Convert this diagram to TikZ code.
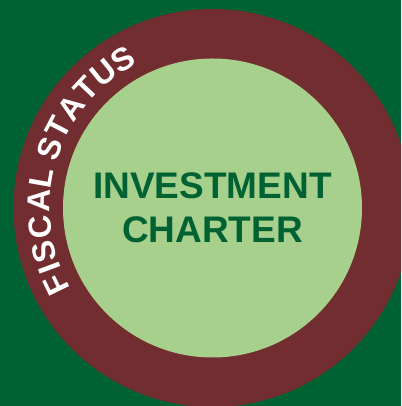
\documentclass[tikz,border=0pt]{standalone}
\usepackage{fontspec}
\setmainfont{Liberation Sans}
\usetikzlibrary{calc}
\definecolor{bggreen}{RGB}{0,98,51}
\definecolor{ringred}{RGB}{114,45,48}
\definecolor{innergreen}{RGB}{168,208,141}
\begin{document}
\begin{tikzpicture}[x=1pt,y=1pt,
  titletext/.style={font=\fontsize{37}{44}\selectfont\bfseries, text=bggreen, align=center},
  ringletter/.style={font=\fontsize{32}{32}\selectfont\bfseries, text=white, inner sep=0pt, anchor=base}]
\useasboundingbox (0,0) rectangle (401,406);
\fill[bggreen] (0,0) rectangle (401,406);
\begin{scope}
\clip (0,0) rectangle (401,406);
\fill[ringred] (212.5,198) circle (199);
\end{scope}
\fill[innergreen] (212.5,198) circle (149.5);
\coordinate (c) at (212.5,198);
\foreach \ch/\ang [count=\i] in {F/206.0, I/200.3, S/194.5, C/186.2, A/177.6, L/170.0,
    S/159.9, T/152.4, A/144.6, T/136.8, U/129.0, S/121.2}
  \node[ringletter, rotate=\ang-90] (ring\i) at ($(c)+(\ang:162.5)$) {\ch};
\node[titletext] (title) at (212.5,198.5) {INVESTMENT\\CHARTER};
\end{tikzpicture}
\end{document}
